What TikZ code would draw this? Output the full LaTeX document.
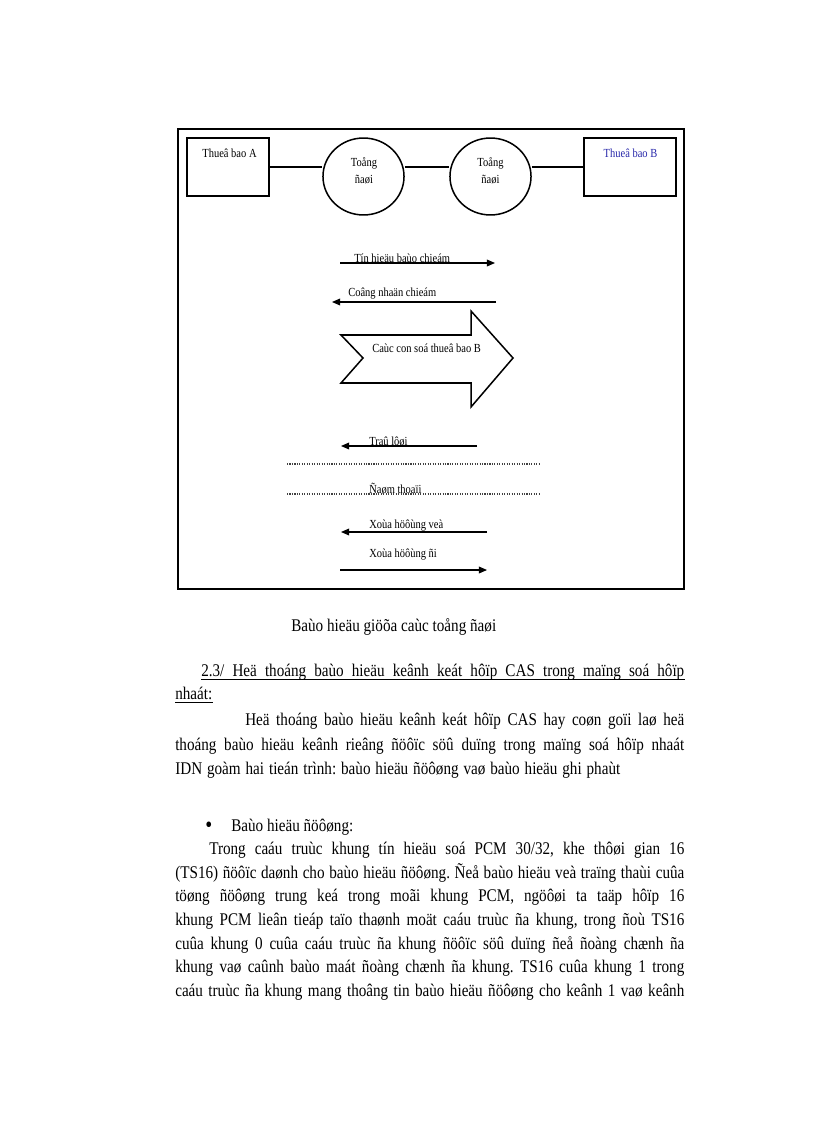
\documentclass[tikz,border=0pt]{standalone}
\usepackage{fontspec}
\setmainfont{Liberation Serif}[FakeStretch=0.85]
\usetikzlibrary{arrows.meta,shapes.geometric}
\definecolor{lblblue}{RGB}{40,40,170}
\newcommand\jl[2]{\makebox[#1][s]{#2}}
\frenchspacing
\begin{document}
\begin{tikzpicture}[x=0.72917pt,y=-0.72917pt,
  lbl/.style={font=\fontsize{9}{11}\selectfont, inner sep=0pt},
  body/.style={font=\fontsize{13}{15}\selectfont, inner sep=0pt, anchor=base west},
  boxst/.style={draw, line width=1.1pt, minimum height=42.3pt, inner sep=0pt},
  circst/.style={draw, ellipse, line width=1.1pt, minimum width=59.1pt, minimum height=56.1pt, inner sep=0pt},
  conn/.style={line width=1.1pt},
  sig/.style={line width=0.8pt, -{Triangle[length=6pt,width=5pt]}},
  dotln/.style={densely dotted, line width=0.8pt, black!75},
  uline/.style={line width=0.7pt}]
\useasboundingbox[fill=white] (0,0) rectangle (816,1123);
% frame
\draw[line width=1.3pt] (178,129) rectangle (684,589);
% top row
\node[boxst, minimum width=59.8pt] (boxA) at (228,167) {};
\node[boxst, minimum width=67.1pt] (boxB) at (630,167) {};
\node[circst] (c1) at (363.5,176.5) {};
\node[circst] (c2) at (490.5,176.5) {};
\draw[conn] (boxA.east) -- (boxA.east -| c1.west);
\draw[conn] (c1.east |- boxA.east) -- (c2.west |- boxA.east);
\draw[conn] (c2.east |- boxA.east) -- (boxB.west);
\node[lbl] (la) at (229.5,153) {Thueâ bao A};
\node[lbl, text=lblblue] (lb) at (630.5,153) {Thueâ bao B};
\node[lbl] (t1) at (364,163) {Toång};
\node[lbl] (d1) at (364,180) {ñaøi};
\node[lbl] (t2) at (490.5,163) {Toång};
\node[lbl] (d2) at (490.5,180) {ñaøi};
% signals
\coordinate (s1a) at (340,263); \coordinate (s1b) at (495,263);
\draw[sig] (s1a) -- (s1b);
\node[lbl, anchor=base west] (s1l) at (354,262) {Tín hieäu baùo chieám};
\coordinate (s2a) at (496,302); \coordinate (s2b) at (332,302);
\draw[sig] (s2a) -- (s2b);
\node[lbl, anchor=base west] (s2l) at (348,296) {Coâng nhaän chieám};
% big arrow
\draw[line width=1.1pt, line join=miter] (341,335) -- (363,358) -- (341,383) -- (471,383) -- (471,407) -- (513,358) -- (471,311) -- (471,335) -- cycle;
\node[lbl, anchor=base west] (bal) at (372,352) {Caùc con soá thueâ bao B};
% answer
\coordinate (s3a) at (477,446); \coordinate (s3b) at (341,446);
\draw[sig] (s3a) -- (s3b);
\node[lbl, anchor=base west] (s3l) at (369,445) {Traû lôøi};
% conversation
\coordinate (d1a) at (287,464); \coordinate (d1b) at (540,464);
\draw[dotln] (d1a) -- (d1b);
\coordinate (d2a) at (287,494); \coordinate (d2b) at (540,494);
\draw[dotln] (d2a) -- (d2b);
\node[lbl, anchor=base west] (dml) at (369,493) {Ñaøm thoaïi};
% clear
\coordinate (s4a) at (487,532); \coordinate (s4b) at (341,532);
\draw[sig] (s4a) -- (s4b);
\node[lbl, anchor=base west] (s4l) at (369,528) {Xoùa höôùng veà};
\coordinate (s5a) at (340,570); \coordinate (s5b) at (487,570);
\draw[sig] (s5a) -- (s5b);
\node[lbl, anchor=base west] (s5l) at (369,557) {Xoùa höôùng ñi};
% caption
\node[body] (cap) at (291,631) {Baùo hieäu giöõa caùc toång ñaøi};
% heading
\node[body] (h1) at (201,676) {\jl{352.2pt}{2.3/ Heä thoáng baùo hieäu keânh keát hôïp CAS trong maïng soá hôïp}};
\node[body] (h2) at (175,699) {nhaát:};
\draw[uline] ([yshift=-2.2pt]h1.base west) -- ([yshift=-2.2pt]h1.base east);
\draw[uline] ([yshift=-2.2pt]h2.base west) -- ([yshift=-2.2pt]h2.base east);
% paragraph 1
\node[body] (p1) at (245,725) {\jl{320.1pt}{Heä thoáng baùo hieäu keânh keát hôïp CAS hay coøn goïi laø heä}};
\node[body] (p2) at (175,750) {\jl{371.2pt}{thoáng baùo hieäu keânh rieâng ñöôïc söû duïng trong maïng soá hôïp nhaát}};
\node[body] (p3) at (175,774) {\jl{324.5pt}{IDN goàm hai tieán trình: baùo hieäu ñöôøng vaø baùo hieäu ghi phaùt}};
% bullet
\node[body, font=\fontsize{17}{19}\selectfont] (bul) at (205,832) {•};
\node[body] (b1) at (231,831) {Baùo hieäu ñöôøng:};
% paragraph 2
\node[body] (q1) at (209,854) {\jl{346.4pt}{Trong caáu truùc khung tín hieäu soá PCM 30/32, khe thôøi gian 16}};
\node[body] (q2) at (175,878) {\jl{371.2pt}{(TS16) ñöôïc daønh cho baùo hieäu ñöôøng. Ñeå baùo hieäu veà traïng thaùi cuûa}};
\node[body] (q3) at (175,901) {\jl{371.2pt}{töøng ñöôøng trung keá trong moãi khung PCM, ngöôøi ta taäp hôïp 16}};
\node[body] (q4) at (175,925) {\jl{371.2pt}{khung PCM lieân tieáp taïo thaønh moät caáu truùc ña khung, trong ñoù TS16}};
\node[body] (q5) at (175,949) {\jl{371.2pt}{cuûa khung 0 cuûa caáu truùc ña khung ñöôïc söû duïng ñeå ñoàng chænh ña}};
\node[body] (q6) at (175,972) {\jl{371.2pt}{khung vaø caûnh baùo maát ñoàng chænh ña khung. TS16 cuûa khung 1 trong}};
\node[body] (q7) at (175,996) {\jl{371.2pt}{caáu truùc ña khung mang thoâng tin baùo hieäu ñöôøng cho keânh 1 vaø keânh}};
\end{tikzpicture}
\end{document}
